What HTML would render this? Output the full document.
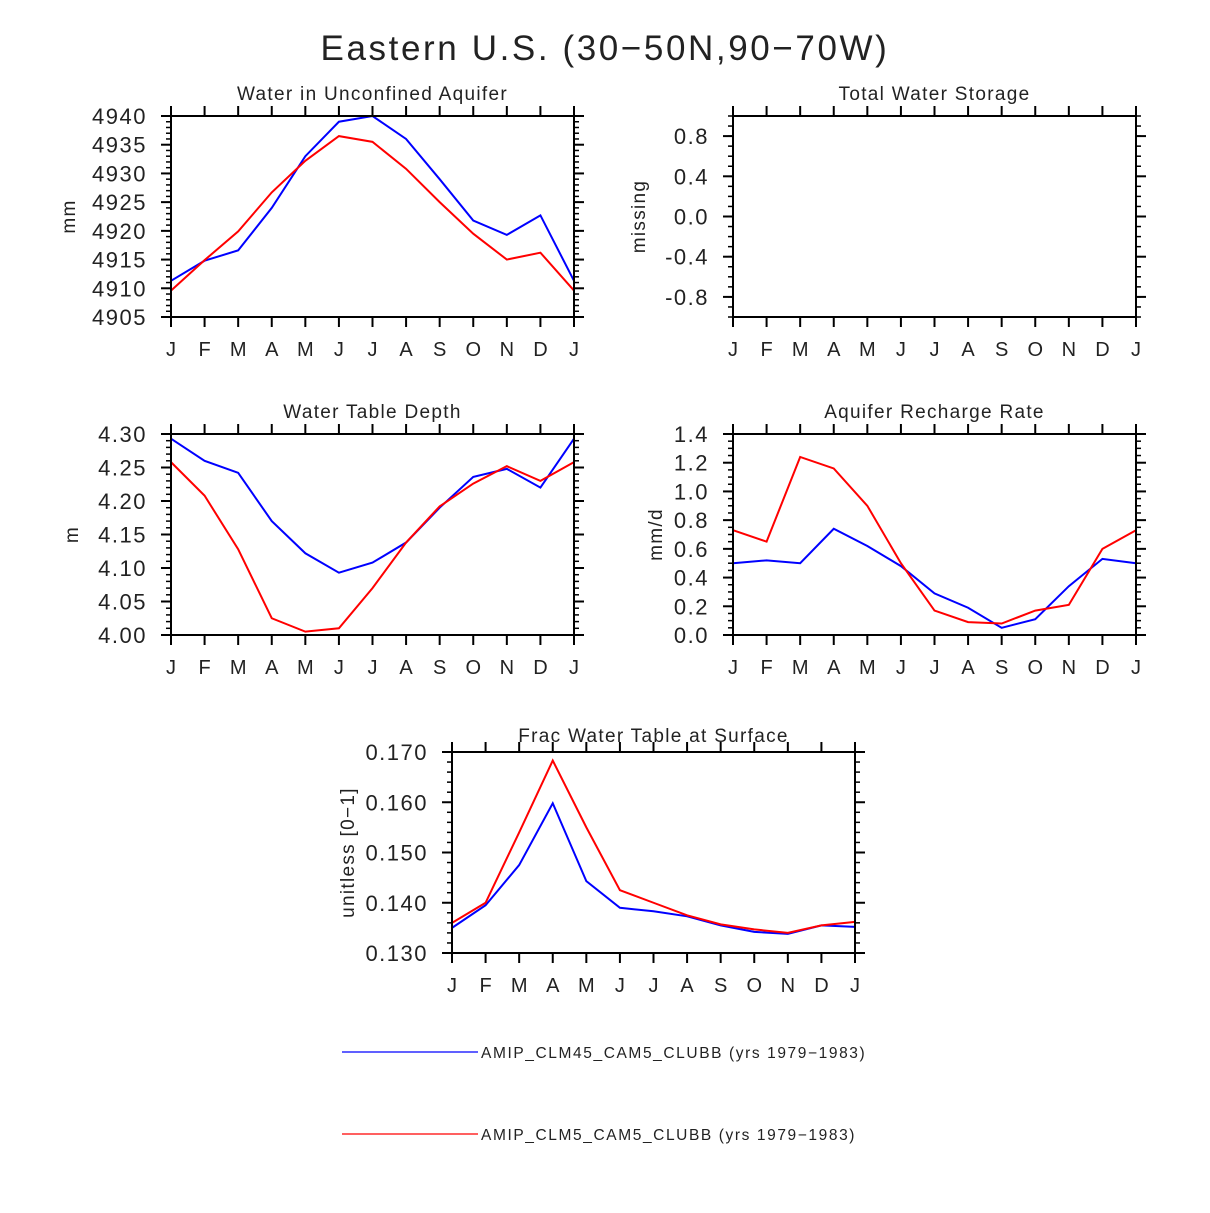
<!DOCTYPE html>
<html><head><meta charset="utf-8">
<style>
body{margin:0;background:#fff;}
svg text{font-family:"Liberation Sans",sans-serif;fill:#222;}
</style></head>
<body>
<svg id="chart" width="1210" height="1208" xmlns="http://www.w3.org/2000/svg">
<text x="605" y="60" font-size="35" text-anchor="middle" letter-spacing="2.6">Eastern U.S. (30−50N,90−70W)</text>
<g>
<line x1="342" y1="1052" x2="478" y2="1052" stroke="#0000ff" stroke-width="1.3"/>
<text x="481" y="1058" font-size="15.5" letter-spacing="1.6">AMIP_CLM45_CAM5_CLUBB (yrs 1979−1983)</text>
<line x1="342" y1="1134" x2="478" y2="1134" stroke="#ff0000" stroke-width="1.3"/>
<text x="481" y="1140" font-size="15.5" letter-spacing="1.6">AMIP_CLM5_CAM5_CLUBB (yrs 1979−1983)</text>
</g>
</svg>
<script>
const months = ["J","F","M","A","M","J","J","A","S","O","N","D","J"];
const aquiferBlue = [4911.3,4914.8,4916.6,4924,4933,4939,4940,4936,4929,4921.8,4919.3,4922.7,4911.3];
const aquiferRed = [4909.6,4914.9,4919.9,4926.7,4932.2,4936.5,4935.5,4930.8,4925,4919.5,4915,4916.2,4909.6];
const aquiferTicks = [4905,4910,4915,4920,4925,4930,4935,4940];
const storageTicks = [-0.8,-0.4,0.0,0.4,0.8];
const depthBlue = [4.293,4.260,4.242,4.170,4.122,4.093,4.108,4.138,4.190,4.236,4.248,4.220,4.293];
const depthRed = [4.258,4.208,4.128,4.025,4.005,4.010,4.070,4.138,4.192,4.226,4.252,4.230,4.258];
const depthTicks = [4.00,4.05,4.10,4.15,4.20,4.25,4.30];
const rechargeBlue = [0.50,0.52,0.50,0.74,0.62,0.48,0.29,0.19,0.05,0.11,0.34,0.53,0.50];
const rechargeRed = [0.73,0.65,1.24,1.16,0.90,0.50,0.17,0.09,0.08,0.17,0.21,0.60,0.73];
const rechargeTicks = [0.0,0.2,0.4,0.6,0.8,1.0,1.2,1.4];
const fracBlue = [0.1350,0.1395,0.1475,0.1598,0.1443,0.1390,0.1383,0.1373,0.1355,0.1342,0.1338,0.1355,0.1352];
const fracRed = [0.1360,0.1400,0.1540,0.1683,0.1550,0.1425,0.1400,0.1375,0.1357,0.1347,0.1340,0.1355,0.1362];
const fracTicks = [0.130,0.140,0.150,0.160,0.170];

const NS="http://www.w3.org/2000/svg";
const svg=document.getElementById('chart');
function mk(tag,attrs,parent){const e=document.createElementNS(NS,tag);for(const k in attrs)e.setAttribute(k,attrs[k]);(parent||svg).appendChild(e);return e;}

function panel(o){
  const g=mk('g',{});
  
  
  const x0=o.x,x1=o.x+403,y0=o.y,y1=o.y+201;
  const xs=i=>x0+(x1-x0)*i/12;
  const ys=v=>y1-(y1-y0)*(v-o.min)/(o.max-o.min);
  const t=mk('text',{x:(x0+x1)/2,y:y0-16+(o.tOff||0),'font-size':19,'text-anchor':'middle','letter-spacing':1.3},g);
  t.textContent=o.title;
  
  
  const yl=mk('text',{x:0,y:0,'font-size':19,'text-anchor':'middle','letter-spacing':1.3,transform:`translate(${x0-100+(o.ylOff||0)},${(y0+y1)/2}) rotate(-90)`},g);
  yl.textContent=o.ylabel;
  
  
  for(let i=0;i<13;i++){
    const x=xs(i);
    mk('line',{x1:x,x2:x,y1:y1,y2:y1+10,stroke:'#000','stroke-width':2},g);
    mk('line',{x1:x,x2:x,y1:y0,y2:y0-10,stroke:'#000','stroke-width':2},g);
    const lt=mk('text',{x:x,y:y1+39,'font-size':20,'text-anchor':'middle'},g);
    lt.textContent=months[i];
    
    
  }
  const tk=o.ticks;
  for(let j=0;j<tk.length;j++){
    const y=ys(tk[j]);
    mk('line',{x1:x0-10,x2:x0,y1:y,y2:y,stroke:'#000','stroke-width':2},g);
    mk('line',{x1:x1,x2:x1+10,y1:y,y2:y,stroke:'#000','stroke-width':2},g);
    const lt=mk('text',{x:x0-24,y:y+8,'font-size':22,'text-anchor':'end','letter-spacing':1.5},g);
    lt.textContent=tk[j].toFixed(o.dec);
    
    
  }
  const step=(tk[1]-tk[0])/o.minorN;
  for(let v=o.min;v<=o.max+1e-9;v+=step){
    const y=ys(v);
    mk('line',{x1:x0-5,x2:x0,y1:y,y2:y,stroke:'#000','stroke-width':1.5},g);
    mk('line',{x1:x1,x2:x1+5,y1:y,y2:y,stroke:'#000','stroke-width':1.5},g);
  }
  (o.series||[]).forEach(s=>{
    const p=mk('polyline',{points:s.d.map((v,i)=>xs(i)+','+ys(v)).join(' '),fill:'none',stroke:s.c,'stroke-width':2},g);
    
    
  });
  mk('rect',{x:x0,y:y0,width:x1-x0,height:y1-y0,fill:'none',stroke:'#000','stroke-width':2},g);
}

panel({name:'panel-unconfined-aquifer',x:171,y:116,min:4905,max:4940,ticks:aquiferTicks,dec:0,minorN:5,title:'Water in Unconfined Aquifer',ylabel:'mm',ylOff:4,
  series:[{d:aquiferBlue,c:'#0000ff',n:'line-clm45'},{d:aquiferRed,c:'#ff0000',n:'line-clm5'}]});
panel({name:'panel-total-water-storage',x:733,y:116,min:-1,max:1,ticks:storageTicks,dec:1,minorN:4,title:'Total Water Storage',ylabel:'missing',ylOff:12,series:[]});
panel({name:'panel-water-table-depth',x:171,y:434,min:4.0,max:4.3,ticks:depthTicks,dec:2,minorN:5,title:'Water Table Depth',ylabel:'m',ylOff:7,
  series:[{d:depthBlue,c:'#0000ff',n:'line-clm45'},{d:depthRed,c:'#ff0000',n:'line-clm5'}]});
panel({name:'panel-aquifer-recharge',x:733,y:434,min:0,max:1.4,ticks:rechargeTicks,dec:1,minorN:4,title:'Aquifer Recharge Rate',ylabel:'mm/d',ylOff:29,
  series:[{d:rechargeBlue,c:'#0000ff',n:'line-clm45'},{d:rechargeRed,c:'#ff0000',n:'line-clm5'}]});
panel({name:'panel-frac-water-table',x:452,y:752,min:0.13,max:0.17,ticks:fracTicks,dec:3,minorN:5,title:'Frac Water Table at Surface',ylabel:'unitless [0−1]',ylOff:2,tOff:6,
  series:[{d:fracBlue,c:'#0000ff',n:'line-clm45'},{d:fracRed,c:'#ff0000',n:'line-clm5'}]});
</script>
</body></html>
